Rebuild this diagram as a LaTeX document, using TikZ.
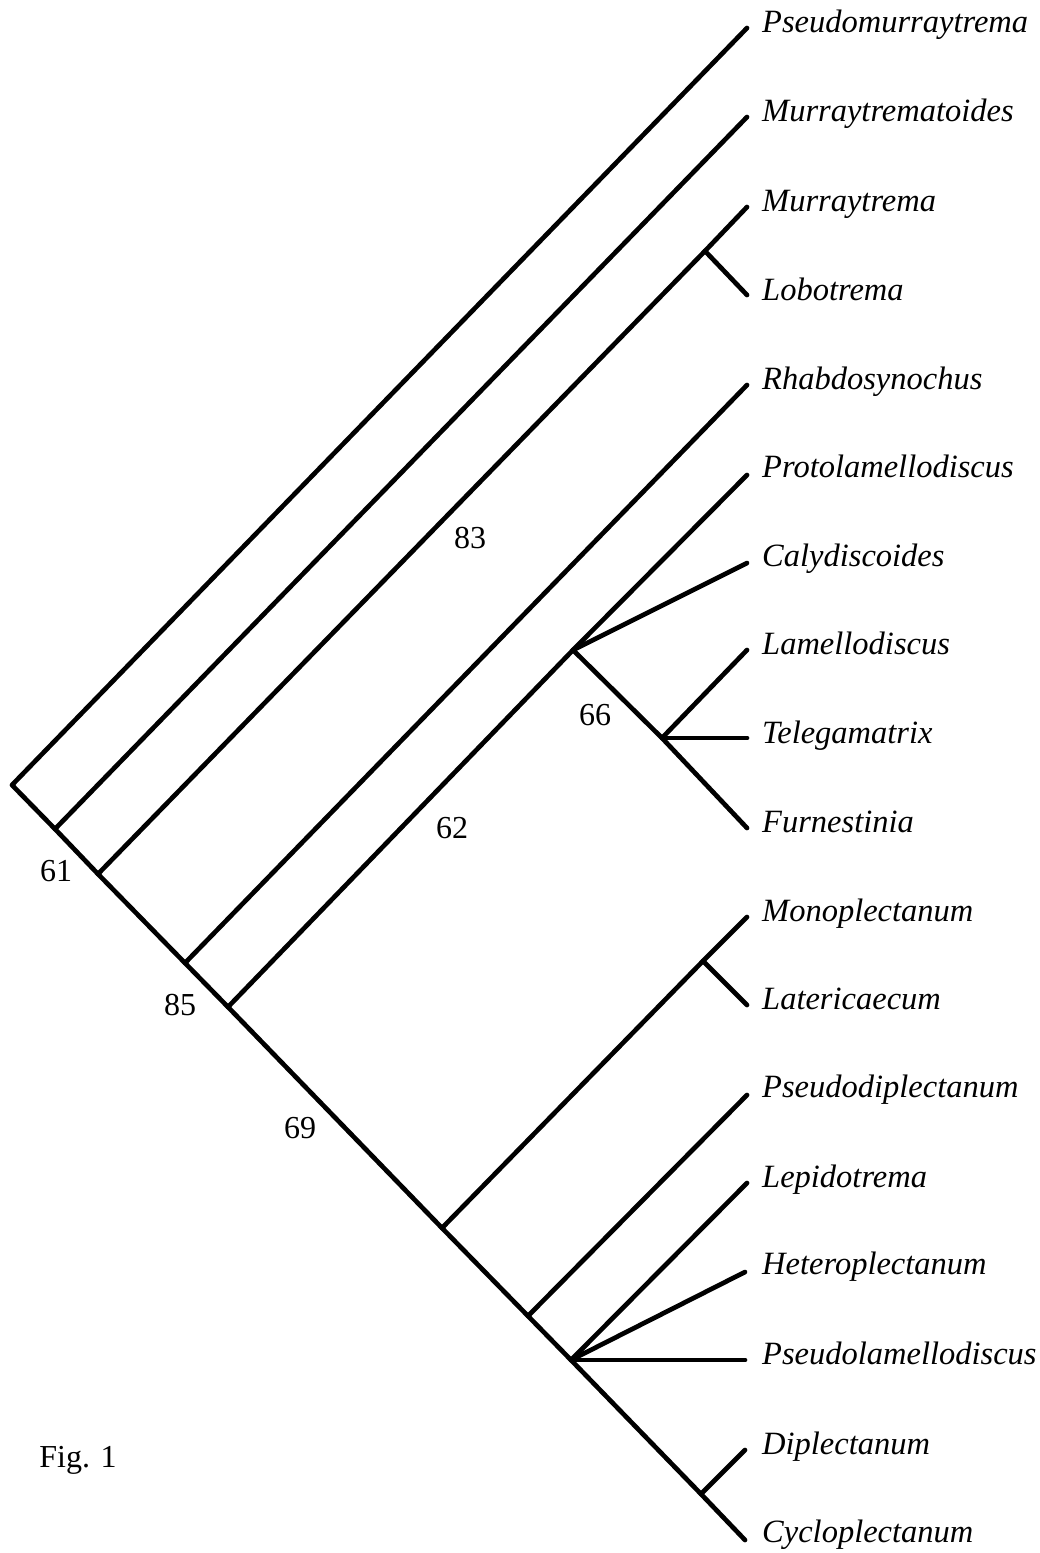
\documentclass[tikz,border=0pt]{standalone}
\usepackage{fontspec}
\setmainfont{Liberation Serif}
\begin{document}
\begin{tikzpicture}[x=1pt,y=-1pt,
  br/.style={line width=4.7pt, line cap=round, line join=round},
  taxon/.style={anchor=base west, inner sep=0pt, font=\fontsize{32.5}{32.5}\selectfont\itshape},
  support/.style={inner sep=0pt, font=\fontsize{32}{32}\selectfont}]
\useasboundingbox (0,0) rectangle (1039,1553);
% backbone junctions
\coordinate (root) at (12,785);
\coordinate (j1) at (55,829);
\coordinate (j2) at (98,874);
\coordinate (j3) at (185,963);
\coordinate (j4) at (228,1007);
\coordinate (j5) at (442,1228);
\coordinate (j6) at (528,1316);
\coordinate (j7) at (571,1360);
\coordinate (j8) at (701,1494);
% inner nodes
\coordinate (nMur) at (705,251);
\coordinate (nCal) at (573,650);
\coordinate (nTel) at (662,738);
\coordinate (nMon) at (703,961);
% tips
\coordinate (a1) at (747,28);
\coordinate (a2) at (747,117);
\coordinate (a3) at (747,207);
\coordinate (a4) at (747,295);
\coordinate (a5) at (747,385);
\coordinate (a6) at (747,475);
\coordinate (a7) at (747,563);
\coordinate (a8) at (747,650);
\coordinate (a9) at (747,738);
\coordinate (a10) at (747,828);
\coordinate (a11) at (747,917);
\coordinate (a12) at (747,1005);
\coordinate (a13) at (747,1095);
\coordinate (a14) at (747,1183);
\coordinate (a15) at (745,1272);
\coordinate (a16) at (745,1360);
\coordinate (a17) at (745,1450);
\coordinate (a18) at (745,1540);
% branches
\draw[br] (a1) -- (root) -- (j1) -- (j2) -- (j3) -- (j4) -- (j5) -- (j6) -- (j7) -- (j8) -- (a18);
\draw[br] (j1) -- (a2);
\draw[br] (j2) -- (nMur) -- (a3);
\draw[br] (nMur) -- (a4);
\draw[br] (j3) -- (a5);
\draw[br] (j4) -- (nCal) -- (a6);
\draw[br] (nCal) -- (a7);
\draw[br] (nCal) -- (nTel) -- (a10);
\draw[br] (nTel) -- (a8);
\draw[br] (nTel) -- (a9);
\draw[br] (j5) -- (nMon) -- (a11);
\draw[br] (nMon) -- (a12);
\draw[br] (j6) -- (a13);
\draw[br] (j7) -- (a14);
\draw[br] (j7) -- (a15);
\draw[br] (j7) -- (a16);
\draw[br] (j8) -- (a17);
% taxon labels
\node[taxon] (t1) at (762,32) {Pseudomurraytrema};
\node[taxon] (t2) at (762,121) {Murraytrematoides};
\node[taxon] (t3) at (762,211) {Murraytrema};
\node[taxon] (t4) at (762,300) {Lobotrema};
\node[taxon] (t5) at (762,389) {Rhabdosynochus};
\node[taxon] (t6) at (762,477) {Protolamellodiscus};
\node[taxon] (t7) at (762,566) {Calydiscoides};
\node[taxon] (t8) at (762,654) {Lamellodiscus};
\node[taxon] (t9) at (762,743) {Telegamatrix};
\node[taxon] (t10) at (762,832) {Furnestinia};
\node[taxon] (t11) at (762,921) {Monoplectanum};
\node[taxon] (t12) at (762,1009) {Latericaecum};
\node[taxon] (t13) at (762,1097) {Pseudodiplectanum};
\node[taxon] (t14) at (762,1187) {Lepidotrema};
\node[taxon] (t15) at (762,1274) {Heteroplectanum};
\node[taxon] (t16) at (762,1364) {Pseudolamellodiscus};
\node[taxon] (t17) at (762,1454) {Diplectanum};
\node[taxon] (t18) at (762,1542) {Cycloplectanum};
% support values
\node[support] (s61) at (56,871) {61};
\node[support] (s85) at (180,1005) {85};
\node[support] (s83) at (470,538) {83};
\node[support] (s62) at (452,828) {62};
\node[support] (s66) at (595,715) {66};
\node[support] (s69) at (300,1128) {69};
\node[support] (fig) at (78,1460) {Fig. 1};
\end{tikzpicture}
\end{document}
